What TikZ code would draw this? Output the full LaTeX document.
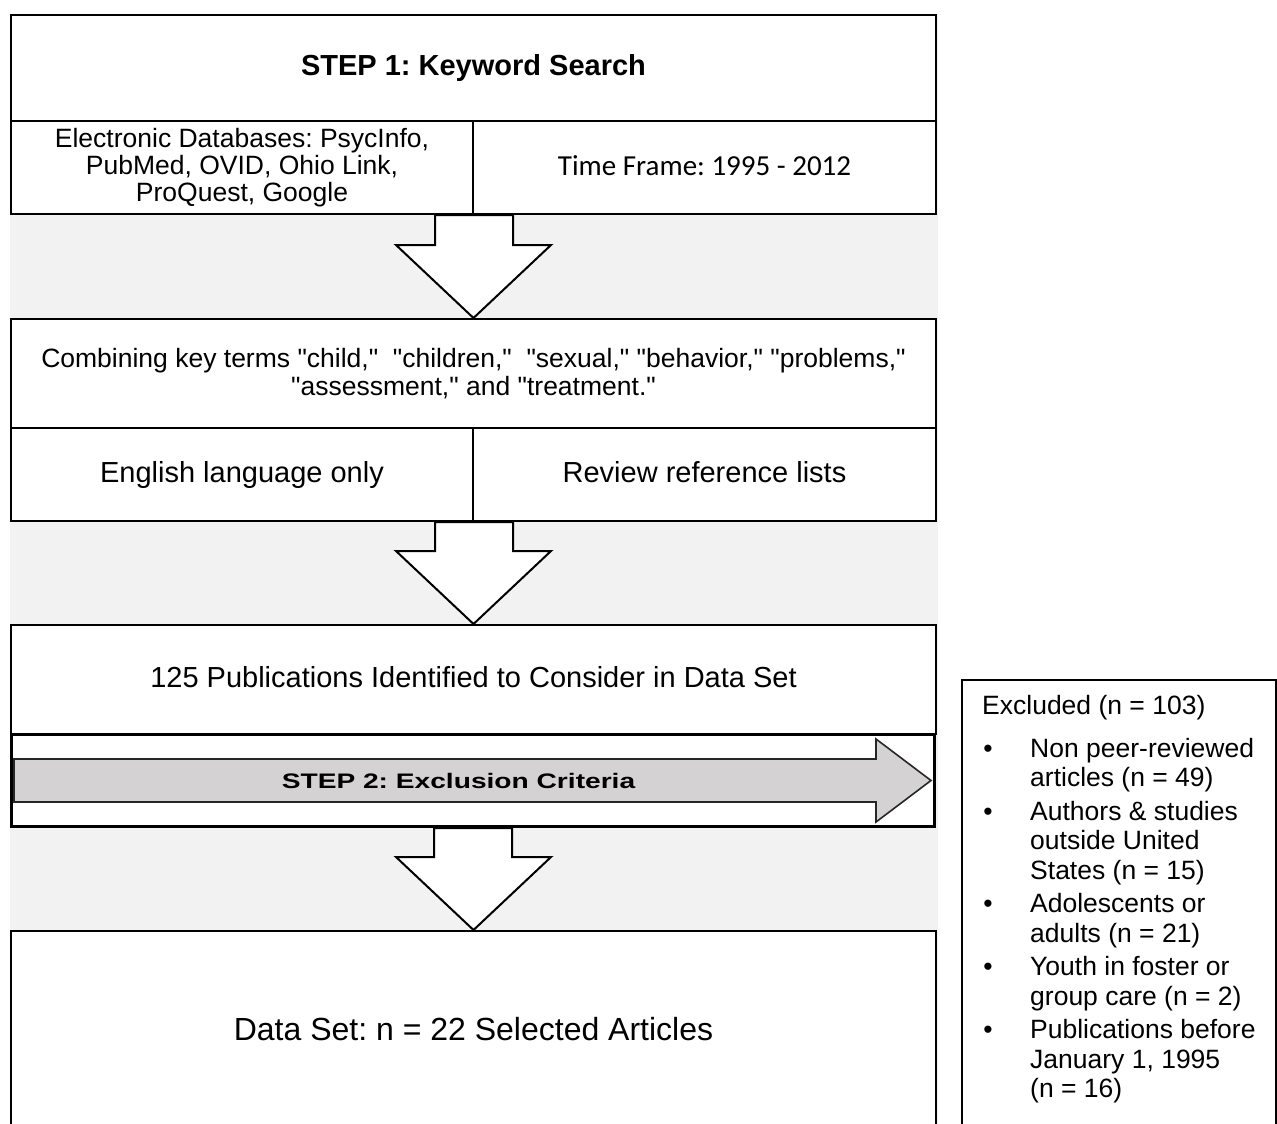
\documentclass[tikz,border=0pt]{standalone}
\usepackage{fontspec}
\setmainfont{Liberation Sans}[Ligatures=TeXOff]
\newfontfamily\calfont{Carlito}
\usetikzlibrary{calc}
\definecolor{bandgray}{RGB}{242,242,242}
\definecolor{arrowgray}{RGB}{212,210,210}
\newcommand\fsz[2]{\fontsize{#1}{#2}\selectfont}
\newcommand\blockdown[2]{%
  \draw[blockarr] ($(#1)+(-39,0)$) -- ($(#1)+(39,0)$) |- ($(#2)+(77.5,-73)$)
    -- (#2) -- ($(#2)+(-77.5,-73)$) -| ($(#1)+(-39,0)$) -- cycle;}
\frenchspacing
\begin{document}
\frenchspacing
\begin{tikzpicture}[x=1pt,y=-1pt,
  box/.style={draw=black, line width=2pt, fill=white, rectangle, inner sep=0pt,
    anchor=north west, align=center, font=\fsz{29}{34}},
  oneline/.style={text height=21pt, text depth=6pt},
  blockarr/.style={draw=black, fill=white, line width=2pt, line join=miter},
  s2arrow/.style={draw=black!85, fill=arrowgray, line width=1.6pt, line join=miter},
  txt/.style={inner sep=0pt, font=\fsz{26.5}{30}}]
\useasboundingbox (0,0) rectangle (1277,1124);
% light band behind the flow
\fill[bandgray] (10,14) rectangle (938,1124);

% STEP 1
\node[box, oneline, minimum width=925pt, minimum height=106pt, font=\fsz{29}{34}\bfseries] (title) at (10,14) {STEP 1: Keyword Search};
\node[box, minimum width=462pt, minimum height=93pt, font=\fsz{26.5}{27}] (db) at (10,120)
  {Electronic Databases: PsycInfo,\\PubMed, OVID, Ohio Link,\\ProQuest, Google};
\node[box, oneline, minimum width=463pt, minimum height=93pt, font=\calfont\fsz{29}{34}] (tf) at (472,120) {Time Frame: 1995 - 2012};

% terms
\node[box, minimum width=925pt, minimum height=109pt, font=\fsz{26.5}{28}] (terms) at (10,318)
  {Combining key terms "child,"\ \ "children,"\ \ "sexual," "behavior," "problems,"\\"assessment," and "treatment."};
\node[box, oneline, minimum width=462pt, minimum height=93pt] (eng) at (10,427) {English language only};
\node[box, oneline, minimum width=463pt, minimum height=93pt] (rev) at (472,427) {Review reference lists};

% publications and step 2
\node[box, oneline, minimum width=925pt, minimum height=109pt] (pubs) at (10,624) {125 Publications Identified to Consider in Data Set};
\node[box, line width=3pt, minimum width=923pt, minimum height=92pt] (s2) at (10,733) {};
\draw[s2arrow] ($(s2.west)+(4,-21.5)$) -- ($(s2.east)+(-60,-21.5)$) -- ($(s2.east)+(-60,-41.5)$)
  -- ($(s2.east)+(-5,0)$) -- ($(s2.east)+(-60,41.5)$) -- ($(s2.east)+(-60,21.5)$)
  -- ($(s2.west)+(4,21.5)$) -- cycle;
\node[inner sep=0pt, font=\fsz{21}{24}\bfseries] (s2label) at ($(s2.center)+(-14.5,0)$)
  {\scalebox{1.34}[1]{STEP 2: Exclusion Criteria}};

% data set
\node[box, minimum width=925pt, minimum height=196pt, font=\fsz{32}{38}] (data) at (10,930) {Data Set: n = 22 Selected Articles};

% block arrows
\blockdown{db.south east}{terms.north}
\blockdown{eng.south east}{pubs.north}
\blockdown{s2.south}{data.north}

% excluded box
\node[box, minimum width=314pt, minimum height=460pt] (excl) at (961,679) {};
\node[txt, anchor=base west] (exhead) at (982,714) {Excluded (n = 103)};
\foreach \yy/\tt [count=\i] in {757/{Non peer-reviewed}, 786.5/{articles (n = 49)},
    820/{Authors \& studies}, 849.5/{outside United}, 879/{States (n = 15)},
    912.5/{Adolescents or}, 942/{adults (n = 21)}, 975.5/{Youth in foster or},
    1005/{group care (n = 2)}, 1038.5/{Publications before}, 1068/{January 1, 1995},
    1097.5/{(n = 16)}}
  \node[txt, anchor=base west] (exline\i) at (1030,\yy) {\tt};
\foreach \yy [count=\i] in {757,820,912.5,975.5,1038.5}
  \node[txt, anchor=base] (bul\i) at (988,\yy) {\textbullet};
\end{tikzpicture}
\end{document}
